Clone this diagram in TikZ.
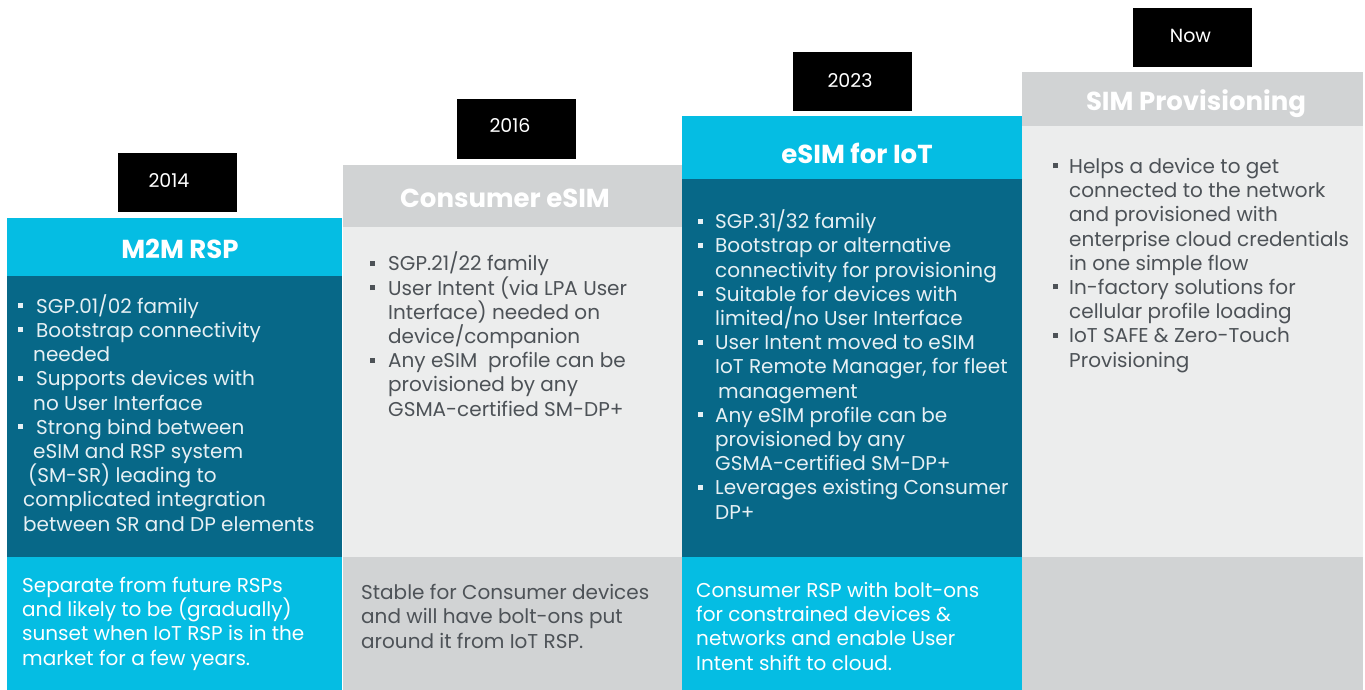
\documentclass[tikz,border=0pt]{standalone}
\usepackage{fontspec}
\setmainfont{Poppins}
\usetikzlibrary{positioning}

\definecolor{cyanhead}{HTML}{05BDE3}
\definecolor{tealbody}{HTML}{076888}
\definecolor{grayhead}{HTML}{D1D3D4}
\definecolor{graybody}{HTML}{ECEDED}
\definecolor{graytext}{HTML}{4D5257}
\definecolor{paletext}{HTML}{E6F0F4}

% bullet with a fixed hanging width
\newcommand{\blt}[1]{\makebox[#1][l]{\rule[5pt]{5pt}{5pt}}}

\tikzset{
  panel/.style={anchor=north west, inner sep=0pt, outer sep=0pt, draw=none},
  headtext/.style={anchor=base, inner sep=0pt, text=white, font=\fontsize{26}{30}\selectfont\bfseries},
  yearbox/.style={fill=black, minimum width=119pt, minimum height=59pt, inner sep=0pt},
  yeartext/.style={inner sep=0pt, text=white, font=\fontsize{19}{22}\selectfont},
  % anchored at the baseline of the last line
  bodytext/.style={anchor=base west, inner sep=0pt, align=left,
    font=\fontsize{20}{24.2}\selectfont},
}

\begin{document}
\begin{tikzpicture}[x=1pt, y=-1pt]
    \useasboundingbox (0,0) rectangle (1365,690);

    % Headers
    \node[panel, fill=cyanhead, minimum width=335pt, minimum height=58pt] (m2mhead) at (7,218) {};
    \node[panel, fill=grayhead, minimum width=339pt, minimum height=62pt] (conshead) at (343,165) {};
    \node[panel, fill=cyanhead, minimum width=340pt, minimum height=63pt] (iothead) at (682,116) {};
    \node[panel, fill=grayhead, minimum width=341pt, minimum height=54pt] (provhead) at (1022,72) {};

    \node[headtext] (m2mtitle) at (180,258) {M2M RSP};
    \node[headtext] (constitle) at (505,207) {Consumer eSIM};
    \node[headtext] (iottitle) at (857,164) {eSIM for IoT};
    \node[headtext] (provtitle) at (1196,111) {SIM Provisioning};

    % Bodies
    \node[panel, fill=tealbody, minimum width=335pt, minimum height=281pt] (m2mbody) at (7,276) {};
    \node[panel, fill=graybody, minimum width=339pt, minimum height=330pt] (consbody) at (343,227) {};
    \node[panel, fill=tealbody, minimum width=340pt, minimum height=378pt] (iotbody) at (682,179) {};
    \node[panel, fill=graybody, minimum width=341pt, minimum height=431pt] (provbody) at (1022,126) {};

    % Footers
    \node[panel, fill=cyanhead, minimum width=335pt, minimum height=133pt] (m2mfoot) at (7,557) {};
    \node[panel, fill=grayhead, minimum width=339pt, minimum height=133pt] (consfoot) at (343,557) {};
    \node[panel, fill=cyanhead, minimum width=340pt, minimum height=133pt] (iotfoot) at (682,557) {};
    \node[panel, fill=grayhead, minimum width=341pt, minimum height=133pt] (provfoot) at (1022,557) {};

    % Years
    \node[yearbox] (y2014) at (177,182.5) {};
    \node[yearbox] (y2016) at (516.5,129) {};
    \node[yearbox] (y2023) at (852.5,82) {};
    \node[yearbox] (ynow) at (1192.5,38) {};
    \node[yeartext] (t2014) at (169,181) {2014};
    \node[yeartext] (t2016) at (510,126) {2016};
    \node[yeartext] (t2023) at (850,80.5) {2023};
    \node[yeartext] (tnow) at (1190.5,35.5) {Now};

    % Bullet lists
    \node[bodytext, text=paletext] (m2mlist) at (18,531) {%
        \blt{18pt}SGP.01/02 family\\
        \blt{18pt}Bootstrap connectivity\\
        \hspace*{15pt}needed\\
        \blt{18pt}Supports devices with\\
        \hspace*{15pt}no User Interface\\
        \blt{18pt}Strong bind between\\
        \hspace*{15pt}eSIM and RSP system\\
        \hspace*{10pt}(SM-SR) leading to\\
        \hspace*{5pt}complicated integration\\
        \hspace*{5pt}between SR and DP elements};
    \node[bodytext, text=graytext] (conslist) at (370,416) {%
        \blt{18pt}SGP.21/22 family\\
        \blt{18pt}User Intent (via LPA User\\
        \hspace*{18pt}Interface) needed on\\
        \hspace*{18pt}device/companion\\
        \blt{18pt}Any eSIM\ \ profile can be\\
        \hspace*{18pt}provisioned by any\\
        \hspace*{18pt}GSMA-certified SM-DP+};
    \node[bodytext, text=paletext] (iotlist) at (698,519) {%
        \blt{17pt}SGP.31/32 family\\
        \blt{17pt}Bootstrap or alternative\\
        \hspace*{17pt}connectivity for provisioning\\
        \blt{17pt}Suitable for devices with\\
        \hspace*{17pt}limited/no User Interface\\
        \blt{17pt}User Intent moved to eSIM\\
        \hspace*{17pt}IoT Remote Manager, for fleet\\
        \hspace*{20pt}management\\
        \blt{17pt}Any eSIM profile can be\\
        \hspace*{17pt}provisioned by any\\
        \hspace*{17pt}GSMA-certified SM-DP+\\
        \blt{17pt}Leverages existing Consumer\\
        \hspace*{17pt}DP+};
    \node[bodytext, text=graytext] (provlist) at (1053,367) {%
        \blt{16pt}Helps a device to get\\
        \hspace*{16pt}connected to the network\\
        \hspace*{16pt}and provisioned with\\
        \hspace*{16pt}enterprise cloud credentials\\
        \hspace*{16pt}in one simple flow\\
        \blt{16pt}In-factory solutions for\\
        \hspace*{16pt}cellular profile loading\\
        \blt{16pt}IoT SAFE \& Zero-Touch\\
        \hspace*{16pt}Provisioning};

    % Footer notes
    \node[bodytext, text=white] (m2mnote) at (22,665) {%
        Separate from future RSPs\\
        and likely to be (gradually)\\
        sunset when IoT RSP is in the\\
        market for a few years.};
    \node[bodytext, text=graytext] (consnote) at (361,648) {%
        Stable for Consumer devices\\
        and will have bolt-ons put\\
        around it from IoT RSP.};
    \node[bodytext, text=white] (iotnote) at (696,670) {%
        Consumer RSP with bolt-ons\\
        for constrained devices \&\\
        networks and enable User\\
        Intent shift to cloud.};
\end{tikzpicture}
\end{document}
